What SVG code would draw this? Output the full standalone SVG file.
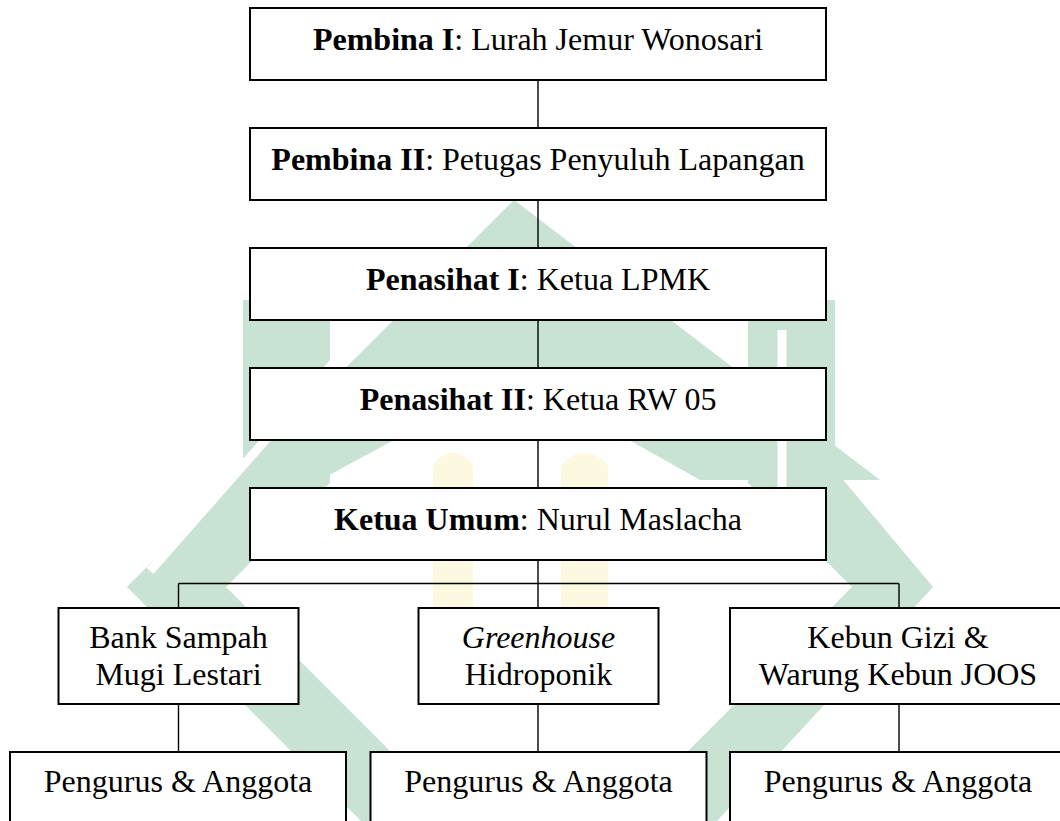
<svg xmlns="http://www.w3.org/2000/svg" width="1060" height="821" viewBox="0 0 1060 821">
<style>
.box{fill:#fff;stroke:#000;stroke-width:2}
.t{font-family:"Liberation Serif","Times New Roman",serif;font-size:32px;fill:#000;text-anchor:middle}
.b{font-weight:bold}
.i{font-style:italic}
.c{stroke:#000;stroke-width:1.4;fill:none}
.wg{fill:#c8e2d4}
.wy{fill:#fcf9e0}
.gap{stroke:#fff;stroke-width:9;fill:none}
</style>
<rect width="1060" height="821" fill="#fff"/>
<g id="watermark">
<path class="wg" fill-rule="evenodd" d="M514,200 L880,480 L700,480 L514,375 L320,480 L243,470 Z"/>
<polygon class="wg" points="243,300 330,300 330,483 226,587 460,821 361,821 127,587 243,470"/>
<polygon class="wg" points="835,300 748,300 748,483 852,587 618,821 717,821 933,587 835,470"/>
<line class="gap" x1="470" y1="208" x2="150" y2="571"/>
<line class="gap" x1="782" y1="330" x2="782" y2="610"/>
<path class="wy" d="M433,610 L433,465 Q453,440 473,465 L473,610 Z"/>
<path class="wy" d="M561,610 L561,465 Q584,440 608,465 L608,610 Z"/>
</g>
<g id="connectors">
<line class="c" x1="538" y1="80" x2="538" y2="128"/>
<line class="c" x1="538" y1="200" x2="538" y2="248"/>
<line class="c" x1="538" y1="320" x2="538" y2="368"/>
<line class="c" x1="538" y1="440" x2="538" y2="488"/>
<line class="c" x1="538" y1="560" x2="538" y2="608"/>
<line class="c" x1="178.5" y1="583.5" x2="899" y2="583.5"/>
<line class="c" x1="178.5" y1="583.5" x2="178.5" y2="608"/>
<line class="c" x1="899" y1="583.5" x2="899" y2="608"/>
<line class="c" x1="178.5" y1="704" x2="178.5" y2="752"/>
<line class="c" x1="538" y1="704" x2="538" y2="752"/>
<line class="c" x1="899" y1="704" x2="899" y2="752"/>
</g>
<g id="pembina1">
<rect class="box" x="250" y="8" width="576" height="72"/>
<text class="t" x="538" y="50"><tspan class="b">Pembina I</tspan>: Lurah Jemur Wonosari</text>
</g>
<g id="pembina2">
<rect class="box" x="250" y="128" width="576" height="72"/>
<text class="t" x="538" y="170"><tspan class="b">Pembina II</tspan>: Petugas Penyuluh Lapangan</text>
</g>
<g id="penasihat1">
<rect class="box" x="250" y="248" width="576" height="72"/>
<text class="t" x="538" y="290"><tspan class="b">Penasihat I</tspan>: Ketua LPMK</text>
</g>
<g id="penasihat2">
<rect class="box" x="250" y="368" width="576" height="72"/>
<text class="t" x="538" y="410"><tspan class="b">Penasihat II</tspan>: Ketua RW 05</text>
</g>
<g id="ketua">
<rect class="box" x="250" y="488" width="576" height="72"/>
<text class="t" x="538" y="530"><tspan class="b">Ketua Umum</tspan>: Nurul Maslacha</text>
</g>
<g id="bank">
<rect class="box" x="58.5" y="608" width="240" height="96"/>
<text class="t" x="178.5" y="648">Bank Sampah</text>
<text class="t" x="178.5" y="685">Mugi Lestari</text>
</g>
<g id="greenhouse">
<rect class="box" x="418.5" y="608" width="240" height="96"/>
<text class="t i" x="538.5" y="648">Greenhouse</text>
<text class="t" x="538.5" y="685">Hidroponik</text>
</g>
<g id="kebun">
<rect class="box" x="730" y="608" width="338" height="96"/>
<text class="t" x="898" y="648">Kebun Gizi &amp;</text>
<text class="t" x="898" y="685">Warung Kebun JOOS</text>
</g>
<g id="pengurus1">
<rect class="box" x="10" y="752" width="336" height="80"/>
<text class="t" x="178" y="792">Pengurus &amp; Anggota</text>
</g>
<g id="pengurus2">
<rect class="box" x="370.5" y="752" width="336" height="80"/>
<text class="t" x="538.5" y="792">Pengurus &amp; Anggota</text>
</g>
<g id="pengurus3">
<rect class="box" x="730" y="752" width="336" height="80"/>
<text class="t" x="898" y="792">Pengurus &amp; Anggota</text>
</g>
</svg>
